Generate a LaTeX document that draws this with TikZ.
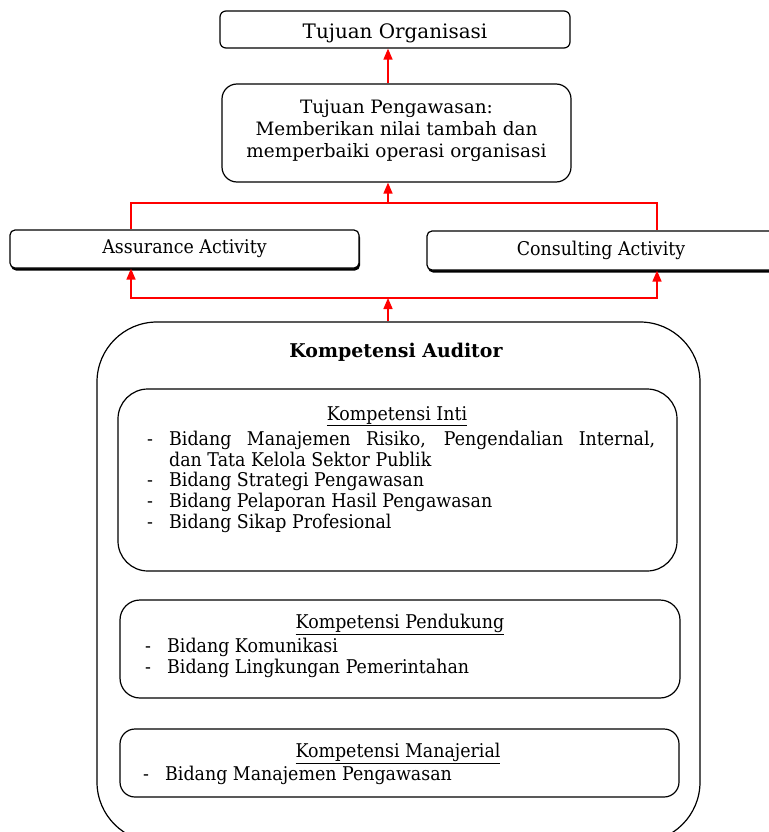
\documentclass[tikz,border=0pt]{standalone}
\usepackage{fontspec}
\setmainfont{DejaVu Serif}
\newfontfamily\narrowfont[FakeStretch=0.92]{DejaVu Serif}
\usetikzlibrary{arrows.meta,shadows}
\newcommand{\dashitem}[1]{\par\noindent\llap{\makebox[22bp][l]{-}}#1}
\begin{document}
\begin{tikzpicture}[x=1bp,y=-1bp,
  box/.style = {draw, line width=1.2bp, rounded corners=#1, inner sep=0pt},
  box/.default = {6bp},
  shade/.style = {drop shadow={shadow xshift=1bp, shadow yshift=-2.5bp, fill=black, opacity=1}},
  title/.style = {font=\fontsize{18.5}{22}\selectfont},
  narrow/.style = {font=\narrowfont\fontsize{19}{21}\selectfont},
  list/.style = {narrow, inner sep=0pt, anchor=north west, align=justify},
  link/.style = {red, line width=1.6bp},
  up/.style = {link, -{Triangle[width=9bp,length=11bp]}}]
\useasboundingbox (0,0) rectangle (769,832);
% the red lines run on these x and y positions
\coordinate (spine) at (388,0);
\coordinate (aleg) at (131,0);
\coordinate (cleg) at (657,0);
\coordinate (topbar) at (0,203);
\coordinate (lowbar) at (0,298);

\node[box=6bp, font=\fontsize{20}{22}\selectfont, text height=18bp, text depth=0bp,
  minimum width=350bp, minimum height=37bp] (org) at (395,29.5) {Tujuan Organisasi};
\node[box=15bp, title, text depth=9bp, minimum width=349bp, minimum height=98bp, align=center] (aim) at (396.5,133)
  {Tujuan Pengawasan:\\ Memberikan nilai tambah dan\\ memperbaiki operasi organisasi};
\node[box=5bp, shade, fill=white, narrow, minimum width=349bp, minimum height=38bp] (assur) at (184.5,249) {Assurance Activity};
\node[box=5bp, shade, fill=white, narrow, minimum width=348bp, minimum height=39bp] (consult) at (601,250.5) {Consulting Activity};

% big frame and its three groups
\node[box=60bp, minimum width=603bp, minimum height=520bp] (aud) at (398.5,582) {};
\node[title, font=\bfseries\fontsize{19}{22}\selectfont] (audtitle) at (396,352) {Kompetensi Auditor};

\node[box=30bp, minimum width=559bp, minimum height=182bp] (inti) at (397.5,480) {};
\node[narrow] (intititle) at (397,416) {\underline{Kompetensi Inti}};
\node[list, text width=486bp] (intilist) at (169,424) {%
  \dashitem{Bidang Manajemen Risiko, Pengendalian Internal,\linebreak dan Tata Kelola Sektor Publik}
  \dashitem{Bidang Strategi Pengawasan}
  \dashitem{Bidang Pelaporan Hasil Pengawasan}
  \dashitem{Bidang Sikap Profesional}};

\node[box=20bp, minimum width=560bp, minimum height=98bp] (dukung) at (400,649) {};
\node[narrow] (dukungtitle) at (400,624) {\underline{Kompetensi Pendukung}};
\node[list, text width=480bp] (dukunglist) at (167,631) {%
  \dashitem{Bidang Komunikasi}
  \dashitem{Bidang Lingkungan Pemerintahan}};

\node[box=15bp, minimum width=559bp, minimum height=68bp] (manaj) at (399.5,763) {};
\node[narrow] (manajtitle) at (398,753) {\underline{Kompetensi Manajerial}};
\node[list, text width=480bp] (manajlist) at (165,759) {%
  \dashitem{Bidang Manajemen Pengawasan}};

% connectors
\draw[up] (spine |- aim.north) -- (spine |- org.south);
\draw[link] (aleg |- assur.north) -- (aleg |- topbar) -- (cleg |- topbar) -- (cleg |- consult.north);
\draw[up] (spine |- topbar) -- (spine |- aim.south);
\draw[up] (spine |- aud.north) -- (spine |- lowbar);
\draw[up] (spine |- lowbar) -| (aleg |- assur.south);
\draw[up] (spine |- lowbar) -| (cleg |- consult.south);
\end{tikzpicture}
\end{document}
